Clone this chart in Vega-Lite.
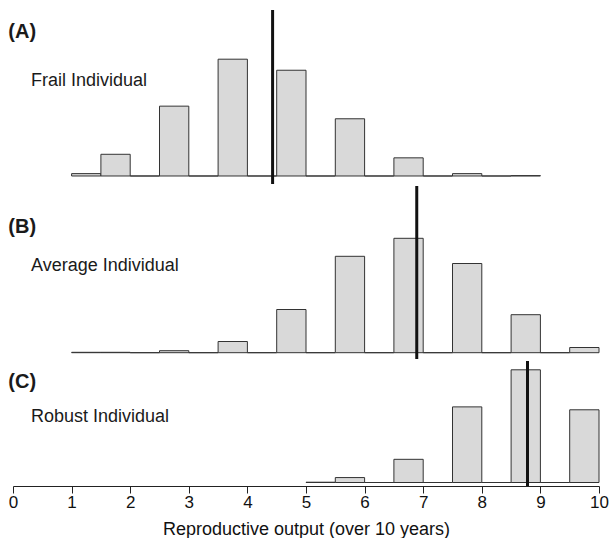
{
  "$schema": "https://vega.github.io/schema/vega-lite/v6.json",
  "padding": {"left": 8, "top": 8, "right": 0, "bottom": 0},
  "bounds": "flush",
  "spacing": 2,
  "config": {"view": {"stroke": null}, "font": "Liberation Sans"},
  "datasets": {
    "bins": [
      {"panel": "A", "lo": 1, "hi": 1.5, "p": 0.006},
      {"panel": "A", "lo": 1.5, "hi": 2, "p": 0.055},
      {"panel": "A", "lo": 2, "hi": 2.5, "p": 0},
      {"panel": "A", "lo": 2.5, "hi": 3, "p": 0.177},
      {"panel": "A", "lo": 3, "hi": 3.5, "p": 0},
      {"panel": "A", "lo": 3.5, "hi": 4, "p": 0.296},
      {"panel": "A", "lo": 4, "hi": 4.5, "p": 0},
      {"panel": "A", "lo": 4.5, "hi": 5, "p": 0.268},
      {"panel": "A", "lo": 5, "hi": 5.5, "p": 0},
      {"panel": "A", "lo": 5.5, "hi": 6, "p": 0.145},
      {"panel": "A", "lo": 6, "hi": 6.5, "p": 0},
      {"panel": "A", "lo": 6.5, "hi": 7, "p": 0.046},
      {"panel": "A", "lo": 7, "hi": 7.5, "p": 0},
      {"panel": "A", "lo": 7.5, "hi": 8, "p": 0.006},
      {"panel": "A", "lo": 8, "hi": 8.5, "p": 0},
      {"panel": "A", "lo": 8.5, "hi": 9, "p": 0.001},
      {"panel": "B", "lo": 1, "hi": 1.5, "p": 0.001},
      {"panel": "B", "lo": 1.5, "hi": 2, "p": 0.001},
      {"panel": "B", "lo": 2, "hi": 2.5, "p": 0},
      {"panel": "B", "lo": 2.5, "hi": 3, "p": 0.005},
      {"panel": "B", "lo": 3, "hi": 3.5, "p": 0},
      {"panel": "B", "lo": 3.5, "hi": 4, "p": 0.028},
      {"panel": "B", "lo": 4, "hi": 4.5, "p": 0},
      {"panel": "B", "lo": 4.5, "hi": 5, "p": 0.108},
      {"panel": "B", "lo": 5, "hi": 5.5, "p": 0},
      {"panel": "B", "lo": 5.5, "hi": 6, "p": 0.241},
      {"panel": "B", "lo": 6, "hi": 6.5, "p": 0},
      {"panel": "B", "lo": 6.5, "hi": 7, "p": 0.286},
      {"panel": "B", "lo": 7, "hi": 7.5, "p": 0},
      {"panel": "B", "lo": 7.5, "hi": 8, "p": 0.223},
      {"panel": "B", "lo": 8, "hi": 8.5, "p": 0},
      {"panel": "B", "lo": 8.5, "hi": 9, "p": 0.095},
      {"panel": "B", "lo": 9, "hi": 9.5, "p": 0},
      {"panel": "B", "lo": 9.5, "hi": 10, "p": 0.013},
      {"panel": "C", "lo": 5, "hi": 5.5, "p": 0.001},
      {"panel": "C", "lo": 5.5, "hi": 6, "p": 0.017},
      {"panel": "C", "lo": 6, "hi": 6.5, "p": 0},
      {"panel": "C", "lo": 6.5, "hi": 7, "p": 0.080},
      {"panel": "C", "lo": 7, "hi": 7.5, "p": 0},
      {"panel": "C", "lo": 7.5, "hi": 8, "p": 0.261},
      {"panel": "C", "lo": 8, "hi": 8.5, "p": 0},
      {"panel": "C", "lo": 8.5, "hi": 9, "p": 0.389},
      {"panel": "C", "lo": 9, "hi": 9.5, "p": 0},
      {"panel": "C", "lo": 9.5, "hi": 10, "p": 0.251}
    ],
    "means": [
      {"panel": "A", "mean": 4.43},
      {"panel": "B", "mean": 6.89},
      {"panel": "C", "mean": 8.78}
    ],
    "labels": [
      {"panel": "A", "tag": "(A)", "name": "Frail Individual"},
      {"panel": "B", "tag": "(B)", "name": "Average Individual"},
      {"panel": "C", "tag": "(C)", "name": "Robust Individual"}
    ]
  },
  "resolve": {"scale": {"x": "independent", "y": "independent"}},
  "vconcat": [
    {
      "width": 586, "height": 174,
      "layer": [
        {
          "data": {"name": "bins"},
          "transform": [{"filter": "datum.panel === 'A'"}],
          "mark": {"type": "rect", "fill": "#d9d9d9", "stroke": "#333333", "strokeWidth": 1},
          "encoding": {
            "x": {"field": "lo", "type": "quantitative", "scale": {"domain": [0, 10], "nice": false, "zero": false}, "axis": null},
            "x2": {"field": "hi"},
            "y": {"field": "p", "type": "quantitative", "scale": {"domain": [-0.0203, 0.4207], "nice": false, "zero": false}, "axis": null},
            "y2": {"datum": 0}
          }
        },
        {
          "data": {"name": "means"},
          "transform": [{"filter": "datum.panel === 'A'"}],
          "mark": {"type": "rule", "color": "#111111", "strokeWidth": 3},
          "encoding": {"x": {"field": "mean", "type": "quantitative"}}
        },
        {
          "data": {"name": "labels"},
          "transform": [{"filter": "datum.panel === 'A'"}],
          "mark": {"type": "text", "align": "left", "baseline": "alphabetic", "fontWeight": "bold", "fontSize": 20, "color": "#1a1a1a"},
          "encoding": {"x": {"datum": -0.08}, "y": {"datum": 0.3497}, "text": {"field": "tag"}}
        },
        {
          "data": {"name": "labels"},
          "transform": [{"filter": "datum.panel === 'A'"}],
          "mark": {"type": "text", "align": "left", "baseline": "alphabetic", "fontSize": 18, "color": "#1a1a1a"},
          "encoding": {"x": {"datum": 0.307}, "y": {"datum": 0.2273}, "text": {"field": "name"}}
        }
      ]
    },
    {
      "width": 586, "height": 173,
      "layer": [
        {
          "data": {"name": "bins"},
          "transform": [{"filter": "datum.panel === 'B'"}],
          "mark": {"type": "rect", "fill": "#d9d9d9", "stroke": "#333333", "strokeWidth": 1},
          "encoding": {
            "x": {"field": "lo", "type": "quantitative", "scale": {"domain": [0, 10], "nice": false, "zero": false}, "axis": null},
            "x2": {"field": "hi"},
            "y": {"field": "p", "type": "quantitative", "scale": {"domain": [-0.01575, 0.41675], "nice": false, "zero": false}, "axis": null},
            "y2": {"datum": 0}
          }
        },
        {
          "data": {"name": "means"},
          "transform": [{"filter": "datum.panel === 'B'"}],
          "mark": {"type": "rule", "color": "#111111", "strokeWidth": 3},
          "encoding": {"x": {"field": "mean", "type": "quantitative"}}
        },
        {
          "data": {"name": "labels"},
          "transform": [{"filter": "datum.panel === 'B'"}],
          "mark": {"type": "text", "align": "left", "baseline": "alphabetic", "fontWeight": "bold", "fontSize": 20, "color": "#1a1a1a"},
          "encoding": {"x": {"datum": -0.08}, "y": {"datum": 0.29925}, "text": {"field": "tag"}}
        },
        {
          "data": {"name": "labels"},
          "transform": [{"filter": "datum.panel === 'B'"}],
          "mark": {"type": "text", "align": "left", "baseline": "alphabetic", "fontSize": 18, "color": "#1a1a1a"},
          "encoding": {"x": {"datum": 0.307}, "y": {"datum": 0.2035}, "text": {"field": "name"}}
        }
      ]
    },
    {
      "width": 586, "height": 125,
      "layer": [
        {
          "data": {"name": "bins"},
          "transform": [{"filter": "datum.panel === 'C'"}],
          "mark": {"type": "rect", "fill": "#d9d9d9", "stroke": "#333333", "strokeWidth": 1},
          "encoding": {
            "x": {
              "field": "lo", "type": "quantitative",
              "scale": {"domain": [0, 10], "nice": false, "zero": false},
              "axis": {
                "values": [0, 1, 2, 3, 4, 5, 6, 7, 8, 9, 10],
                "format": "d",
                "title": "Reproductive output (over 10 years)",
                "grid": false,
                "tickSize": 7,
                "tickColor": "#222222",
                "domainColor": "#222222",
                "labelColor": "#111111",
                "labelFontSize": 17,
                "labelPadding": 1,
                "labelFlush": false,
                "titleFontSize": 18,
                "titleFontWeight": "normal",
                "titleColor": "#111111",
                "titlePadding": 10
              }
            },
            "x2": {"field": "hi"},
            "y": {"field": "p", "type": "quantitative", "scale": {"domain": [-0.01208, 0.4194], "nice": false, "zero": false}, "axis": null},
            "y2": {"datum": 0}
          }
        },
        {
          "data": {"name": "means"},
          "transform": [{"filter": "datum.panel === 'C'"}],
          "mark": {"type": "rule", "color": "#111111", "strokeWidth": 3},
          "encoding": {"x": {"field": "mean", "type": "quantitative"}}
        },
        {
          "data": {"name": "labels"},
          "transform": [{"filter": "datum.panel === 'C'"}],
          "mark": {"type": "text", "align": "left", "baseline": "alphabetic", "fontWeight": "bold", "fontSize": 20, "color": "#1a1a1a"},
          "encoding": {"x": {"datum": -0.08}, "y": {"datum": 0.3245}, "text": {"field": "tag"}}
        },
        {
          "data": {"name": "labels"},
          "transform": [{"filter": "datum.panel === 'C'"}],
          "mark": {"type": "text", "align": "left", "baseline": "alphabetic", "fontSize": 18, "color": "#1a1a1a"},
          "encoding": {"x": {"datum": 0.307}, "y": {"datum": 0.2088}, "text": {"field": "name"}}
        }
      ]
    }
  ]
}
